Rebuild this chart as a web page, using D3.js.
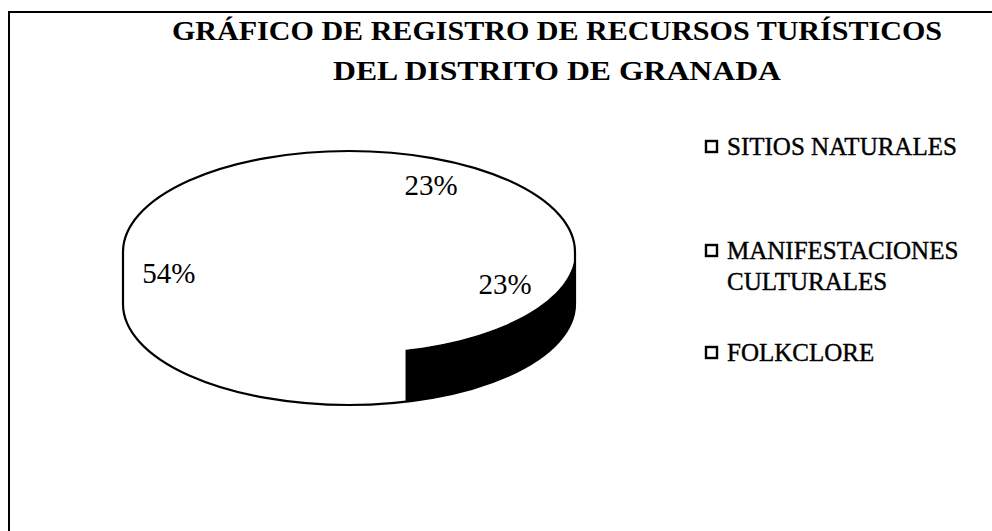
<!DOCTYPE html>
<html>
<head>
<meta charset="utf-8">
<script src="https://cdn.jsdelivr.net/npm/d3@7"></script>
<style>
    body { margin: 0; background: #fff; }
    svg { display: block; }
    .graphtitle { font-family: 'Liberation Serif', 'DejaVu Serif', serif; font-weight: bold; font-size: 27px; fill: #000; }
    .legendtext { font-family: 'Liberation Serif', 'DejaVu Serif', serif; font-size: 25px; fill: #000; stroke: #000; stroke-width: 0.4px; }
    .slicelabel { font-family: 'Liberation Serif', 'DejaVu Serif', serif; font-size: 29px; fill: #000; }
</style>
</head>
<body>
<svg class="chartArea"></svg>
<script>
// chart data
var categories = ['SITIOS NATURALES', 'MANIFESTACIONES CULTURALES', 'FOLKCLORE'];
var legendLines = [['SITIOS NATURALES'], ['MANIFESTACIONES', 'CULTURALES'], ['FOLKCLORE']];
var values = [23, 23, 54];
var sliceLabels = ['23%', '23%', '54%'];
var titleLines = ['GRÁFICO DE REGISTRO DE RECURSOS TURÍSTICOS', 'DEL DISTRITO DE GRANADA'];

// styling / layout kept apart from the data
var sideColors = ['#ffffff', '#000000', '#ffffff'];
var labelNudge = [[-30, -10], [16, -11], [-12, 11]];
var legendBaselines = [155, 259, 361];

draw_pie3d('chartArea');

function draw_pie3d(areaID) {
    var width = 992,
        height = 531;

    var cx = 349, cy = 252,
        rx = 226, ry = 101,
        depth = 52;

    var svg = d3
        .select('.' + areaID)
        .attr('width', width)
        .attr('height', height);

    // Outer frame (runs off the right and bottom of the picture)
    svg.append('rect')
        .attr('x', 9)
        .attr('y', 12)
        .attr('width', 1100)
        .attr('height', 700)
        .attr('fill', 'none')
        .attr('stroke', '#000')
        .attr('stroke-width', 2);

    // Add title
    var titleWidths = [770, 448];
    svg.selectAll('.graphtitle')
        .data(titleLines)
        .enter()
        .append('text')
        .attr('class', 'graphtitle')
        .attr('x', 557)
        .attr('y', function(d, i) { return 40 + i * 40; })
        .attr('text-anchor', 'middle')
        .attr('textLength', function(d, i) { return titleWidths[i]; })
        .attr('lengthAdjust', 'spacingAndGlyphs')
        .text(function(d) { return d; });

    var pie = d3.pie()
        .sort(null)
        .value(function(d) { return d; });
    var arcs = pie(values);

    // point on the rim of the ellipse, angle from 12 o'clock clockwise
    function pt(a, dy) {
        return [cx + rx * Math.sin(a), cy - ry * Math.cos(a) + dy];
    }

    // Draw side walls (only the front half is visible)
    arcs.forEach(function(d, i) {
        var s = Math.max(d.startAngle, Math.PI / 2),
            e = Math.min(d.endAngle, Math.PI * 1.5);
        if (s >= e) return;
        var p0 = pt(s, 0), p1 = pt(e, 0), p2 = pt(e, depth), p3 = pt(s, depth);
        var path = 'M' + p0 + ' A' + rx + ',' + ry + ' 0 0 1 ' + p1 +
            ' L' + p2 + ' A' + rx + ',' + ry + ' 0 0 0 ' + p3 + ' Z';
        svg.append('path')
            .attr('d', path)
            .attr('fill', sideColors[i])
            .attr('stroke', sideColors[i])
            .attr('stroke-width', 0.5);
    });

    // Draw top face
    var arc = d3.arc().innerRadius(0).outerRadius(rx);
    svg.append('g')
        .attr('transform', 'translate(' + cx + ',' + cy + ') scale(1,' + (ry / rx) + ')')
        .selectAll('path')
        .data(arcs)
        .enter()
        .append('path')
        .attr('d', arc)
        .attr('fill', '#fff');

    // Outline of the whole disc
    var outline = 'M' + (cx + rx) + ',' + cy +
        ' A' + rx + ',' + ry + ' 0 0 0 ' + (cx - rx) + ',' + cy +
        ' L' + (cx - rx) + ',' + (cy + depth) +
        ' A' + rx + ',' + ry + ' 0 0 0 ' + (cx + rx) + ',' + (cy + depth) + ' Z';
    svg.append('path')
        .attr('d', outline)
        .attr('fill', 'none')
        .attr('stroke', '#000')
        .attr('stroke-width', 2.2);

    // Slice labels
    svg.selectAll('.slicelabel')
        .data(arcs)
        .enter()
        .append('text')
        .attr('class', 'slicelabel')
        .attr('x', function(d, i) {
            var mid = (d.startAngle + d.endAngle) / 2;
            return cx + rx * 0.75 * Math.sin(mid) + labelNudge[i][0];
        })
        .attr('y', function(d, i) {
            var mid = (d.startAngle + d.endAngle) / 2;
            return cy - ry * 0.75 * Math.cos(mid) + labelNudge[i][1];
        })
        .attr('dy', '0.35em')
        .attr('text-anchor', 'middle')
        .text(function(d, i) { return sliceLabels[i]; });

    // Legend
    var legend = svg.selectAll('.legenditem')
        .data(categories)
        .enter()
        .append('g')
        .attr('class', 'legenditem');

    legend.append('rect')
        .attr('x', 706)
        .attr('y', function(d, i) { return legendBaselines[i] - 14; })
        .attr('width', 11)
        .attr('height', 11)
        .attr('fill', '#fff')
        .attr('stroke', '#000')
        .attr('stroke-width', 2.4);

    legend.each(function(d, i) {
        d3.select(this)
            .selectAll('text')
            .data(legendLines[i])
            .enter()
            .append('text')
            .attr('class', 'legendtext')
            .attr('x', 727)
            .attr('y', function(t, j) { return legendBaselines[i] + j * 31; })
            .text(function(t) { return t; });
    });
}
</script>
</body>
</html>
